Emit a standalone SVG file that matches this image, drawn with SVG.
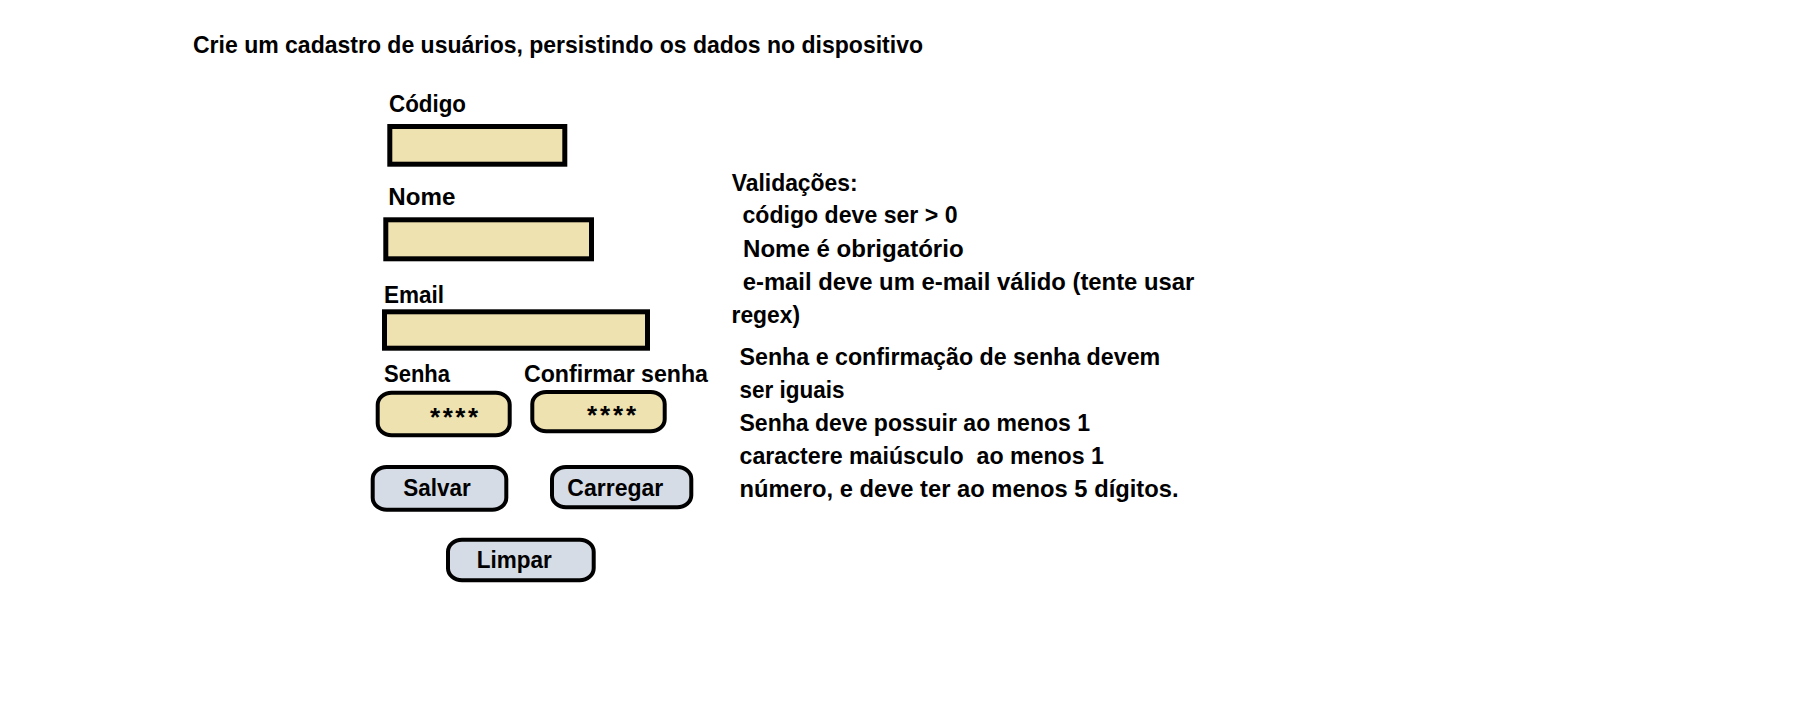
<svg xmlns="http://www.w3.org/2000/svg" width="1799" height="719" viewBox="0 0 1799 719">
<style>
.t{font-family:"Liberation Sans",Arial,sans-serif;font-weight:bold;font-size:24px;fill:#000}
.ast{font-family:"Liberation Sans",Arial,sans-serif;font-weight:bold;font-size:26px;fill:#000}
.inp{fill:#EFE2B1;stroke:#000;stroke-width:5}
.pw{fill:#EFE2B1;stroke:#000;stroke-width:4}
.btn{fill:#D6DCE5;stroke:#000;stroke-width:4}
</style>
<rect x="0" y="0" width="1799" height="719" fill="#fff"/>
<g id="title">
<text class="t" x="193" y="52.5" textLength="730" lengthAdjust="spacingAndGlyphs">Crie um cadastro de usuários, persistindo os dados no dispositivo</text>
</g>
<g id="codigo">
<text class="t" x="389" y="111.7" textLength="77" lengthAdjust="spacingAndGlyphs">Código</text>
<rect class="inp" x="389.8" y="126.5" width="175" height="37.7"/>
</g>
<g id="nome">
<text class="t" x="388.3" y="205" textLength="67" lengthAdjust="spacingAndGlyphs">Nome</text>
<rect class="inp" x="385.8" y="219.8" width="205.7" height="39"/>
</g>
<g id="email">
<text class="t" x="384" y="302.7" textLength="60" lengthAdjust="spacingAndGlyphs">Email</text>
<rect class="inp" x="384.5" y="311.8" width="263" height="36.4"/>
</g>
<g id="senha">
<text class="t" x="384" y="381.7" textLength="66" lengthAdjust="spacingAndGlyphs">Senha</text>
<rect class="pw" x="377.7" y="392.7" width="132" height="42.6" rx="14" ry="12"/>
<text class="ast" x="430" y="426" textLength="48" lengthAdjust="spacing">****</text>
</g>
<g id="confirmar-senha">
<text class="t" x="524" y="381.7" textLength="184" lengthAdjust="spacingAndGlyphs">Confirmar senha</text>
<rect class="pw" x="532.3" y="392" width="132.4" height="39.3" rx="14" ry="12"/>
<text class="ast" x="587" y="424" textLength="49" lengthAdjust="spacing">****</text>
</g>
<g id="salvar">
<rect class="btn" x="372.7" y="467" width="133.6" height="42.7" rx="14" ry="12"/>
<text class="t" x="403.3" y="495.7" textLength="67.4" lengthAdjust="spacingAndGlyphs">Salvar</text>
</g>
<g id="carregar">
<rect class="btn" x="552" y="467" width="139.3" height="40.3" rx="14" ry="12"/>
<text class="t" x="567.3" y="495.7" textLength="96" lengthAdjust="spacingAndGlyphs">Carregar</text>
</g>
<g id="limpar">
<rect class="btn" x="448" y="539.7" width="145.7" height="40.6" rx="14" ry="12"/>
<text class="t" x="476.7" y="568.3" textLength="75" lengthAdjust="spacingAndGlyphs">Limpar</text>
</g>
<g id="validacoes">
<text class="t" x="731.7" y="191" textLength="126" lengthAdjust="spacingAndGlyphs">Validações:</text>
<text class="t" x="742.5" y="223.3" textLength="215" lengthAdjust="spacingAndGlyphs">código deve ser &gt; 0</text>
<text class="t" x="743" y="256.7" textLength="220.6" lengthAdjust="spacingAndGlyphs">Nome é obrigatório</text>
<text class="t" x="742.7" y="290" textLength="451.6" lengthAdjust="spacingAndGlyphs">e-mail deve um e-mail válido (tente usar</text>
<text class="t" x="731.5" y="322.7" textLength="68.5" lengthAdjust="spacingAndGlyphs">regex)</text>
<text class="t" x="739.5" y="365" textLength="420.7" lengthAdjust="spacingAndGlyphs">Senha e confirmação de senha devem</text>
<text class="t" x="739.5" y="398.3" textLength="105" lengthAdjust="spacingAndGlyphs">ser iguais</text>
<text class="t" x="739.5" y="431" textLength="350.5" lengthAdjust="spacingAndGlyphs">Senha deve possuir ao menos 1</text>
<text class="t" x="739.5" y="464.3" textLength="364.5" lengthAdjust="spacingAndGlyphs" xml:space="preserve">caractere maiúsculo  ao menos 1</text>
<text class="t" x="739.5" y="496.7" textLength="439" lengthAdjust="spacingAndGlyphs">número, e deve ter ao menos 5 dígitos.</text>
</g>
<g id="connectors"></g>
</svg>
